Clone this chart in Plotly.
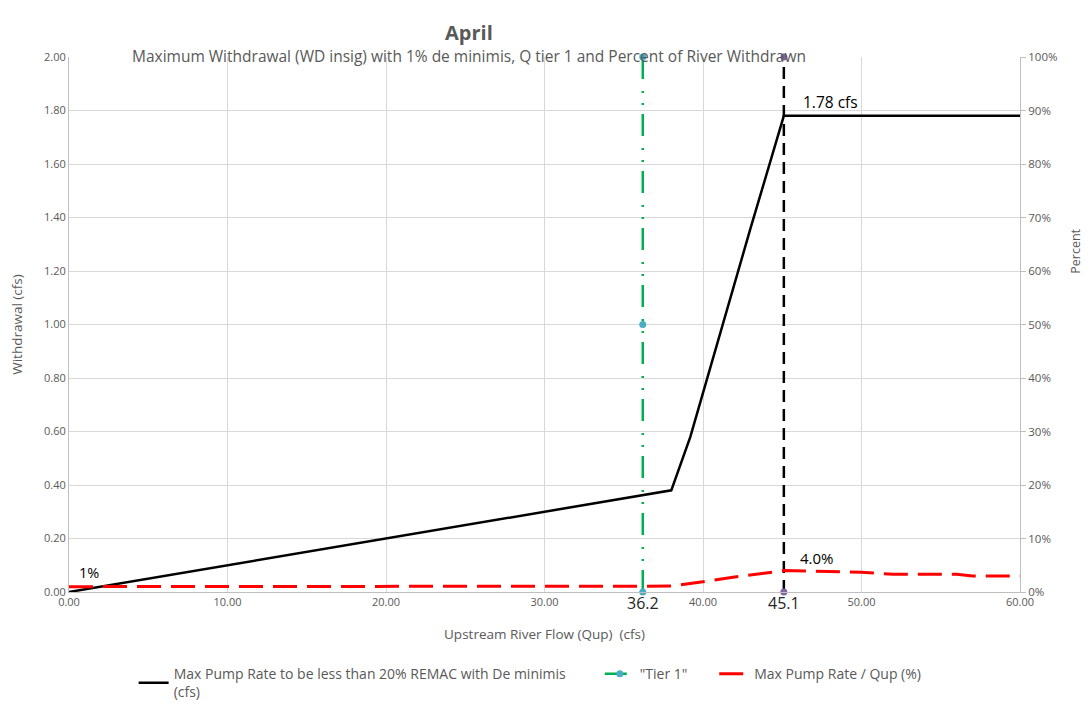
import plotly.graph_objects as go

# ---- data ----
flow_x = [0, 38.0, 39.2, 41.0, 43.0, 45.1, 60.0]
pump_rate = [0.0, 0.38, 0.58, 0.95, 1.36, 1.78, 1.78]

pct_x = [0, 36.2, 38.0, 40.0, 42.0, 45.1, 48.0, 50.0, 52.0, 56.0, 57.0, 60.0]
pct_vals = [1.0, 1.0, 1.1, 1.9, 2.8, 4.0, 3.8, 3.7, 3.3, 3.3, 3.0, 3.0]

tier1_x = [36.2, 36.2, 36.2]
tier1_y = [0, 1, 2]
limit_x = [45.1, 45.1]
limit_y = [0, 2]

x_ticks = [0, 10, 20, 30, 40, 50, 60]
x_tick_text = ["0.00", "10.00", "20.00", "30.00", "40.00", "50.00", "60.00"]
y_ticks = [0, 0.2, 0.4, 0.6, 0.8, 1.0, 1.2, 1.4, 1.6, 1.8, 2.0]
y2_ticks = [0, 10, 20, 30, 40, 50, 60, 70, 80, 90, 100]
y2_tick_text = ["0%", "10%", "20%", "30%", "40%", "50%", "60%", "70%", "80%", "90%", "100%"]

FONT = "Open Sans"
GRAY = "#595959"
NB = "\u00a0"

fig = go.Figure()
fig.add_trace(go.Scatter(
    x=flow_x, y=pump_rate, mode="lines",
    line=dict(color="black", width=2.5),
    name="Max Pump Rate to be less than 20% REMAC with De minimis" + NB * 8 + "<br>(cfs)"))
fig.add_trace(go.Scatter(
    x=tier1_x, y=tier1_y, mode="lines+markers", cliponaxis=False,
    line=dict(color="#00B050", width=2.5, dash="22px,9px,2px,10px,2px,12px"),
    marker=dict(color="#4BACC6", size=7),
    name='"Tier 1"' + NB * 6))
fig.add_trace(go.Scatter(
    x=limit_x, y=limit_y, mode="lines+markers", cliponaxis=False,
    line=dict(color="black", width=2.5, dash="12px,7px"),
    marker=dict(color="#8064A2", size=7),
    showlegend=False))
fig.add_trace(go.Scatter(
    x=pct_x, y=pct_vals, mode="lines", yaxis="y2",
    line=dict(color="#FF0000", width=3, dash="24px,10px"),
    name="Max Pump Rate / Qup (%)"))

annotations = [
    dict(text="<b>April</b>", xref="paper", yref="paper", x=0.4206, y=1.0,
         yshift=40, showarrow=False, font=dict(size=20, color=GRAY, family=FONT)),
    dict(text="Maximum Withdrawal (WD insig) with 1% de minimis, Q tier 1 and Percent of River Withdrawn",
         xref="paper", yref="paper", x=0.4206, y=1.0, yshift=14, showarrow=False,
         font=dict(size=15.5, color=GRAY, family=FONT)),
    dict(text="1.78 cfs", x=46.2, y=1.78, xanchor="left", yanchor="bottom", yshift=1,
         showarrow=False, font=dict(size=15.5, color="black", family=FONT)),
    dict(text="4.0%", x=46.0, y=4.0, yref="y2", xanchor="left", yanchor="bottom", yshift=1,
         showarrow=False, font=dict(size=15, color="black", family=FONT)),
    dict(text="1%", x=0.5, y=0.03, xanchor="left", yanchor="bottom",
         showarrow=False, font=dict(size=14.5, color="black", family=FONT)),
    dict(text="36.2", x=36.2, xref="x", y=0, yref="paper", yanchor="top", yshift=2,
         showarrow=False, font=dict(size=16, color="#262626", family=FONT)),
    dict(text="45.1", x=45.1, xref="x", y=0, yref="paper", yanchor="top", yshift=2,
         showarrow=False, font=dict(size=16, color="#262626", family=FONT)),
    dict(text="Percent", xref="paper", yref="paper", x=1.0, xshift=66,
         y=0.637, textangle=-90, showarrow=False,
         font=dict(size=12.5, color=GRAY, family=FONT)),
]

fig.update_layout(
    width=1083, height=696,
    paper_bgcolor="white", plot_bgcolor="white",
    margin=dict(l=61, r=71, t=49, b=112, autoexpand=False),
    font=dict(family=FONT, color=GRAY, size=11),
    showlegend=True,
    legend=dict(orientation="h", xref="container", yref="container",
                x=0.116, y=0.066, xanchor="left", yanchor="top",
                font=dict(size=14, color=GRAY, family=FONT), entrywidth=0),
    annotations=annotations,
    xaxis=dict(range=[0, 60], tickvals=x_ticks, ticktext=x_tick_text,
               showgrid=True, gridcolor="#D9D9D9", gridwidth=1,
               showline=True, linecolor="#BFBFBF", zeroline=False, automargin=False,
               tickfont=dict(size=11, color=GRAY),
               title=dict(text="Upstream River Flow (Qup)  (cfs)", font=dict(size=13.5, color=GRAY),
                          standoff=21)),
    yaxis=dict(range=[0, 2], tickvals=y_ticks, tickformat=".2f",
               showgrid=True, gridcolor="#D9D9D9", gridwidth=1,
               showline=True, linecolor="#BFBFBF", zeroline=False, automargin=False,
               tickfont=dict(size=11, color=GRAY), ticklen=0,
               title=dict(text="Withdrawal (cfs)", font=dict(size=13.5, color=GRAY), standoff=26)),
    yaxis2=dict(range=[0, 100], tickvals=y2_ticks, ticktext=y2_tick_text,
                overlaying="y", side="right",
                showgrid=False, showline=True, linecolor="#BFBFBF", zeroline=False,
                automargin=False,
                ticks="outside", ticklen=5, tickcolor="#BFBFBF",
                tickfont=dict(size=11.5, color=GRAY)),
)

fig.write_html("out.html")
